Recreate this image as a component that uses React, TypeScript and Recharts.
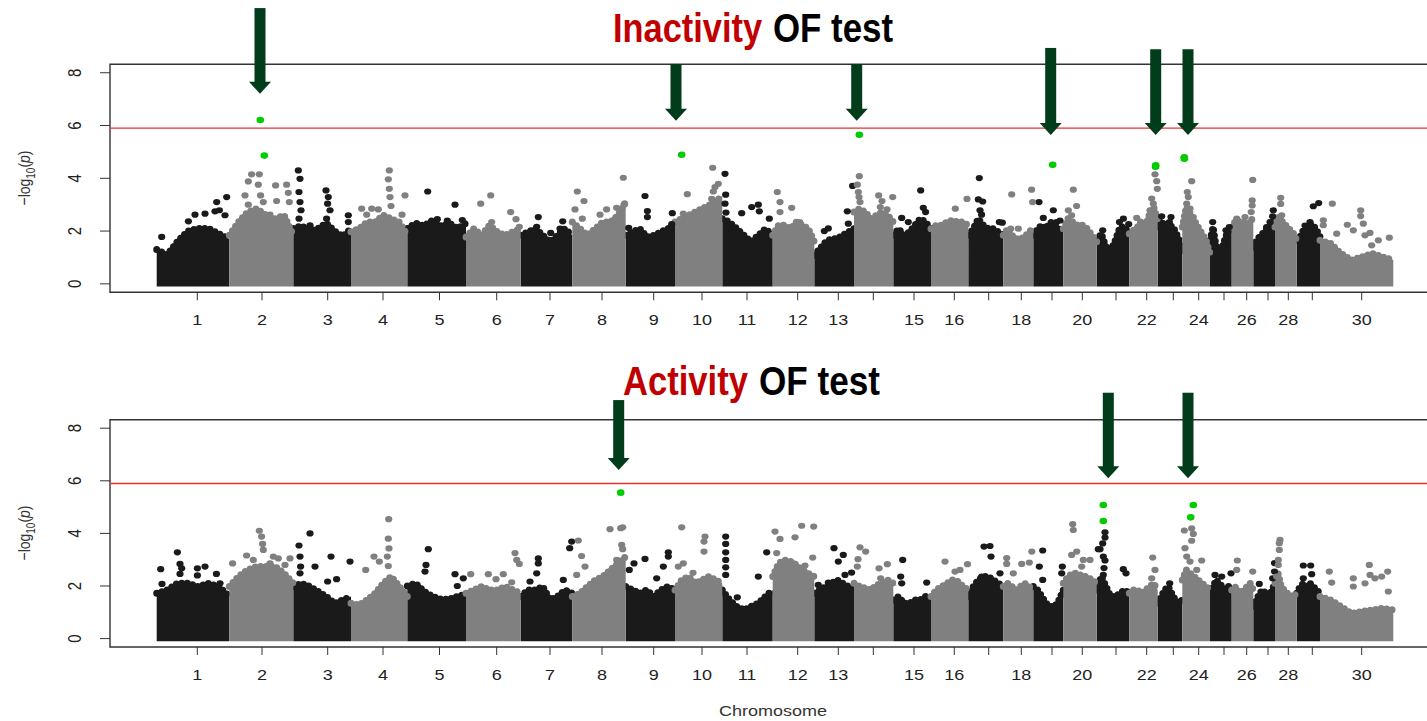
import React from 'react';
import {
  ComposedChart,
  Area,
  Scatter,
  XAxis,
  YAxis,
  ReferenceLine,
  ReferenceArea,
} from 'recharts';

// colours
const DARK = '#1a1a1a';
const LIGHT = '#808080';
const HIT = '#00cc00';
const THRESH = '#e8312d';
const ARROW = '#023d1b';
const TITLE_RED = '#c00000';
const FONT = '"Liberation Sans", Arial, sans-serif';

// chromosome lengths (position units) and label positions
const CHR_LEN = [72.6, 64, 57.7, 56.3, 58.7, 54.7, 51.6, 53.4, 49.3, 47.3, 50.4, 41.6, 39.7, 39.3, 37.7, 37.3, 35, 30, 30, 33.4, 32.6, 28.4, 24.6, 27.7, 21.7, 21.6, 21.7, 21.7, 23.3, 73.3];
const CHR_TICK = [40.6, 105.3, 171, 226.3, 282.8, 340, 393.3, 445.3, 497, 545.3, 590.3, 641, 681.6, 716.6, 757.3, 797.6, 832, 864.6, 895.3, 925.6, 959.3, 990, 1016.6, 1042, 1067.3, 1090, 1111.3, 1131.6, 1155.6, 1205];
const CHR_LABEL = ['1', '2', '3', '4', '5', '6', '7', '8', '9', '10', '11', '12', '13', '', '15', '16', '', '18', '', '20', '', '22', '', '24', '', '26', '', '28', '', '30'];
const Y_TICKS = [0, 2, 4, 6, 8];
const THRESHOLD = 5.9;

const X_MIN = -46.7;
const X_MAX = 1286.3;
const Y_MIN = -0.32;
const Y_MAX = 8.32;

// ---- Inactivity: top of the dense SNP band per chromosome (-log10 p)
const INACT_BODY = [
  [1.3, 1.1, 1.6, 2.0, 2.1, 2.1, 1.9, 1.7],
  [1.84, 2.34, 2.72, 2.85, 2.6, 2.47, 2.6, 1.84],
  [2.1, 2.2, 2.0, 2.1, 2.3, 2.0, 1.8, 2.1],
  [1.97, 2.09, 2.34, 2.34, 2.6, 2.47, 2.34, 1.84],
  [2.1, 2.3, 2.2, 2.4, 2.2, 2.3, 2.1, 2.3],
  [1.78, 2.09, 1.84, 2.22, 1.97, 1.84, 1.97, 2.09],
  [1.84, 1.97, 2.09, 1.84, 1.59, 1.84, 2.09, 1.84],
  [2.34, 2.09, 1.84, 2.09, 2.34, 2.34, 2.6, 3.1],
  [1.84, 1.97, 2.09, 1.78, 1.84, 1.97, 2.09, 2.22],
  [2.34, 2.47, 2.6, 2.72, 2.85, 2.97, 3.1, 3.35],
  [2.47, 2.34, 2.09, 1.84, 1.59, 1.84, 2.09, 1.84],
  [1.84, 2.22, 2.22, 2.09, 2.34, 2.22, 2.09, 1.59],
  [1.08, 1.34, 1.59, 1.71, 1.71, 1.84, 1.97, 2.09],
  [2.72, 2.85, 2.72, 2.47, 2.6, 2.72, 2.6, 2.34],
  [1.84, 2.09, 1.84, 1.97, 2.22, 2.47, 2.34, 2.09],
  [2.09, 2.22, 2.22, 2.34, 2.41, 2.34, 2.34, 2.22],
  [1.84, 2.09, 2.47, 2.22, 2.09, 2.09, 1.97, 1.84],
  [1.84, 2.09, 1.84, 1.71, 1.71, 1.78, 1.97, 2.09],
  [1.84, 2.09, 2.22, 2.09, 2.34, 2.22, 2.09, 1.97],
  [2.09, 2.47, 2.34, 2.22, 2.22, 2.09, 1.84, 1.59],
  [1.65, 1.9, 1.4, 1.27, 1.65, 2.15, 2.15, 1.9],
  [1.9, 2.03, 2.15, 2.41, 2.15, 2.66, 2.91, 2.41],
  [2.15, 2.4, 2.2, 2.1, 2.2, 2.0, 1.7, 1.2],
  [2.15, 2.91, 2.66, 2.41, 2.15, 1.9, 1.65, 1.15],
  [1.65, 2.15, 1.4, 1.15, 1.4, 1.78, 2.03, 2.09],
  [2.15, 2.34, 2.41, 2.28, 2.34, 2.28, 2.34, 2.53],
  [1.4, 1.65, 1.78, 1.9, 2.03, 2.15, 2.28, 2.41],
  [2.15, 2.53, 2.41, 2.28, 2.15, 2.03, 1.9, 1.65],
  [1.65, 1.78, 2.03, 2.15, 2.28, 2.22, 2.03, 1.78],
  [1.65, 1.53, 1.15, 0.9, 1.02, 1.15, 1.02, 0.9],
];

// ---- Inactivity: single SNPs above the band, [position in chromosome, -log10 p]
const INACT_DOTS: [number, number][][] = [
  [[5, 1.78], [31.7, 2.37], [38.3, 2.62], [48.3, 2.66], [58.3, 2.75], [60, 3.1], [62.7, 2.79], [70, 3.29], [68.3, 2.6]],
  [[15.7, 3.35], [19, 3.0], [19, 3.88], [22.3, 4.15], [30, 4.15], [29, 3.76], [31.3, 3.35], [34, 3.1], [46.3, 3.73], [57.3, 3.76], [59, 3.45], [60, 3.1], [47.3, 3.14], [40.7, 2.62]],
  [[5, 4.3], [6.7, 3.98], [5.7, 3.48], [6.7, 3.1], [7.7, 2.79], [5.7, 2.47], [32.7, 3.54], [35, 3.29], [34.3, 3.04], [36.7, 2.79], [33.3, 2.47], [55, 2.6], [55, 2.34], [16.7, 2.22]],
  [[38.3, 4.3], [37.3, 3.96], [38.3, 3.6], [39, 3.29], [40, 2.95], [10.7, 2.85], [20.7, 2.85], [27.3, 2.82], [54, 3.35], [51, 2.62], [15.7, 2.62]],
  [[20.4, 3.5], [47.7, 3.0], [30, 2.45], [40, 2.4], [55, 2.42]],
  [[14.7, 3.04], [24.7, 3.35], [44.7, 2.72], [50, 2.45], [53.3, 2.16], [25.7, 2.34]],
  [[17.6, 2.53], [16, 2.16], [42, 2.37], [39.3, 2.09], [30, 1.93]],
  [[5, 3.5], [11.7, 3.14], [2.7, 2.82], [27.7, 2.62], [34.3, 2.82], [44.3, 2.88], [51, 4.02], [51.7, 3.0], [49, 2.72], [10, 2.47]],
  [[19.3, 3.33], [21.7, 2.76], [21.7, 2.53], [3, 2.12], [46.6, 2.68], [46, 2.26]],
  [[12.3, 3.4], [37.7, 4.4], [43.3, 3.79], [40, 3.67], [38.3, 3.5], [36.7, 3.22], [41.7, 3.04], [31.7, 2.79], [8.3, 2.66], [18.3, 2.47]],
  [[2.7, 4.17], [3.4, 3.38], [2.7, 3.04], [3.7, 2.7], [19.4, 2.68], [29.4, 2.91], [36, 3.0], [37, 2.75], [47, 2.47]],
  [[4.6, 3.48], [7.3, 3.1], [7.3, 2.72], [19, 2.88], [27, 2.34]],
  [[33, 2.75], [34, 2.28], [38.3, 3.71], [10, 2.0], [14, 2.1]],
  [[5.3, 4.08], [3.3, 3.76], [4.3, 3.48], [5, 3.29], [6, 3.1], [24.7, 3.35], [28, 3.14], [38.7, 3.29], [26.3, 2.91], [33, 2.82]],
  [[27.4, 3.54], [8.4, 2.5], [15, 2.34], [30, 2.88], [32.3, 2.72], [30, 2.16]],
  [[24.3, 2.85], [36, 3.22], [13, 2.16]],
  [[11, 4.01], [10, 3.2], [14.4, 3.12], [11.7, 2.79], [13.3, 2.62], [31, 2.34], [34, 2.32]],
  [[8.4, 3.39], [28.3, 3.57], [29.3, 3.1], [7.4, 2.09], [15, 2.09]],
  [[5.7, 3.1], [20, 2.79], [10, 2.5], [23.3, 2.34], [26.7, 2.4]],
  [[10, 3.57], [13.3, 2.95], [5, 2.79], [8.3, 2.6]],
  [[6, 2.03], [26.7, 2.47], [22.7, 2.34], [32, 2.26]],
  [[25.7, 4.15], [27.4, 3.89], [28, 3.6], [22.4, 3.23], [24, 3.04], [20.7, 2.79], [7.4, 2.5]],
  [[4, 2.56], [13.3, 2.53], [11.7, 2.34]],
  [[9.4, 3.89], [5, 3.48], [6, 3.29], [4.4, 3.04], [7.7, 2.85], [11, 2.53]],
  [[2.7, 2.34], [16, 2.03], [19.3, 2.15]],
  [[5, 2.47], [13.3, 2.53], [21, 3.94], [20.5, 3.16], [20.5, 2.97], [19.5, 2.72]],
  [[20, 2.79], [19.3, 2.56], [16.7, 2.34], [13.3, 2.15]],
  [[5.7, 3.26], [5.7, 3.03], [6.7, 2.6]],
  [[16.6, 2.94], [22, 3.06], [13.3, 2.34], [8.3, 2.21]],
  [[12.3, 3.04], [3.3, 2.41], [3.3, 2.22], [16.7, 1.9], [27.3, 2.24], [33.3, 2.03], [40.7, 2.79], [40.7, 2.57], [43.3, 2.28], [50, 1.93], [58.3, 1.65], [69.3, 1.75], [51.7, 1.46], [45, 1.84]],
];

// highlighted SNPs: [chromosome, position, -log10 p]
const INACT_HITS: [number, number, number][] = [
  [2, 31, 6.21], [2, 35, 4.86], [10, 6.7, 4.89], [14, 5.3, 5.65], [19, 19.4, 4.51],
  [22, 26.4, 4.49], [22, 26.2, 4.44], [24, 2, 4.74], [24, 2, 4.8],
];
// arrows: [chromosome, position, tip, top]
const INACT_ARROWS: [number, number, number, number][] = [
  [2, 30.7, 7.2, 10.45], [10, 1, 6.18, 8.33], [14, 2.7, 6.18, 8.33],
  [19, 17.4, 5.64, 8.94], [22, 26.4, 5.64, 8.89], [24, 5.7, 5.64, 8.89],
];

// ---- Activity
const ACT_BODY = [
  [1.72, 1.85, 2.1, 2.1, 1.98, 2.1, 1.98, 1.6],
  [1.98, 2.36, 2.61, 2.74, 2.74, 2.74, 2.48, 2.1],
  [1.98, 2.1, 1.98, 1.79, 1.6, 1.34, 1.47, 1.6],
  [1.34, 1.28, 1.47, 1.72, 2.1, 2.36, 1.98, 1.6],
  [2.0, 2.1, 1.8, 1.6, 1.5, 1.5, 1.6, 1.7],
  [1.72, 1.85, 1.98, 1.85, 1.85, 1.98, 1.85, 1.72],
  [1.6, 1.85, 1.85, 1.98, 1.47, 1.6, 1.85, 1.72],
  [1.6, 1.72, 1.98, 2.23, 2.36, 2.61, 2.86, 3.12],
  [1.98, 1.85, 1.72, 1.85, 1.6, 1.85, 1.98, 1.85],
  [1.85, 2.23, 2.36, 2.1, 2.23, 2.36, 2.23, 2.1],
  [1.85, 1.47, 1.22, 1.09, 1.22, 1.34, 1.6, 1.85],
  [2.36, 2.86, 2.99, 2.93, 2.8, 2.61, 2.48, 2.36],
  [1.72, 1.85, 1.98, 2.1, 2.23, 2.1, 1.98, 1.85],
  [2.1, 1.98, 1.92, 1.85, 2.04, 2.1, 2.23, 2.1],
  [1.47, 1.6, 1.34, 1.34, 1.47, 1.47, 1.6, 1.34],
  [1.6, 1.85, 1.98, 2.1, 2.23, 2.17, 1.98, 1.85],
  [1.6, 1.98, 2.23, 2.36, 2.36, 2.23, 2.1, 1.98],
  [1.98, 2.1, 1.98, 1.85, 1.98, 2.1, 1.98, 1.85],
  [1.98, 1.85, 1.6, 1.34, 1.22, 1.22, 1.47, 1.85],
  [2.1, 2.36, 2.48, 2.48, 2.36, 2.36, 2.23, 2.1],
  [1.85, 2.36, 1.98, 1.6, 1.6, 1.72, 1.85, 1.72],
  [1.72, 1.85, 1.85, 1.72, 1.85, 1.98, 2.1, 1.85],
  [1.34, 1.6, 1.85, 1.98, 1.72, 1.47, 1.34, 1.47],
  [2.23, 2.61, 2.48, 2.36, 2.23, 2.1, 1.98, 1.85],
  [1.72, 1.98, 2.23, 2.1, 1.98, 1.85, 1.98, 1.85],
  [1.85, 1.98, 1.85, 1.72, 1.85, 1.98, 2.1, 1.85],
  [1.22, 1.47, 1.72, 1.85, 1.72, 1.6, 1.85, 2.1],
  [2.1, 2.48, 1.98, 1.85, 1.72, 1.6, 1.72, 1.6],
  [1.72, 1.98, 2.1, 1.98, 2.1, 1.98, 1.85, 1.72],
  [1.6, 1.47, 1.22, 0.96, 1.03, 1.09, 1.15, 1.09],
];

const ACT_DOTS: [number, number][][] = [
  [[4, 2.64], [5.3, 2.08], [20.7, 3.28], [23.3, 2.84], [25, 2.67], [23.3, 2.46], [40.7, 2.67], [48.3, 2.74], [40.7, 2.4], [59.7, 2.46], [63.3, 2.1]],
  [[30, 4.1], [32.3, 3.88], [33.3, 3.6], [34, 3.37], [17.3, 3.16], [3.3, 2.86], [24, 2.99], [44, 3.12], [49, 3.05], [60.7, 3.05], [55.7, 2.8], [40.7, 2.86]],
  [[5.7, 3.54], [6.7, 3.12], [7.3, 2.74], [6.7, 2.48], [16.7, 4.0], [21.7, 2.74], [37.7, 3.12], [43.3, 2.26], [56.7, 2.93], [34.3, 2.17]],
  [[37.7, 4.54], [37.3, 3.8], [38, 3.43], [36.3, 3.12], [37.3, 2.76], [23, 3.12], [28.3, 2.93], [14.7, 2.61]],
  [[21, 3.4], [18.7, 2.8], [17.7, 2.55], [47.7, 2.45], [56, 2.29], [50, 2.0]],
  [[4.7, 2.45], [22.3, 2.45], [37.3, 2.45], [30, 2.26], [45.7, 2.14], [49, 3.25], [50.7, 2.99], [53.3, 2.84]],
  [[17.6, 3.05], [17.6, 2.86], [16, 2.48], [9.3, 2.17], [42.6, 2.23], [49, 3.44], [51, 3.69]],
  [[6, 3.73], [9.3, 3.14], [12.7, 2.74], [4.4, 2.42], [37.7, 4.16], [50.4, 4.23], [48.4, 4.2], [49.4, 3.56], [50.4, 3.4], [44.4, 2.99], [39.4, 2.61]],
  [[19.3, 3.03], [8.3, 2.86], [3.6, 2.61], [37.6, 2.74], [42.6, 3.28], [42.6, 3.12], [31, 2.29]],
  [[6.7, 4.23], [30, 3.88], [29, 3.69], [29, 3.31], [8.3, 2.86], [3.3, 2.74], [18, 2.5]],
  [[3.4, 3.88], [3.4, 3.6], [3.4, 3.28], [3.4, 2.99], [3.4, 2.71], [3.4, 2.42], [44.4, 3.28], [36, 2.36], [15, 1.57]],
  [[2.3, 4.07], [7.3, 3.79], [29, 4.29], [41, 4.26], [22.3, 3.85], [4, 3.25], [20.6, 2.86], [32.3, 2.78], [40, 3.08]],
  [[19.7, 3.44], [29, 3.18], [24, 2.93], [30.7, 2.42], [14, 2.13], [4, 2.04], [37.3, 2.51]],
  [[6, 3.47], [11.7, 3.31], [4, 3.02], [3.3, 2.74], [33.3, 2.83], [25, 2.67], [26.7, 2.29]],
  [[9.4, 2.99], [7.4, 2.36], [8.4, 2.1], [33.4, 2.13]],
  [[14, 2.93], [36.5, 2.83], [24, 2.55], [29, 2.61]],
  [[15.7, 3.5], [21.7, 3.52], [22.7, 3.12], [31.7, 2.48], [13.4, 2.36]],
  [[3.4, 3.06], [3.4, 2.84], [18.4, 2.84], [26, 2.89], [10, 2.48], [28.5, 3.31]],
  [[9.4, 3.35], [6, 2.74], [9.4, 2.23], [29, 2.74], [28.4, 2.48]],
  [[9.4, 4.35], [10, 4.13], [8.4, 3.18], [13.4, 3.31], [20, 2.99], [26.7, 2.99], [18.4, 2.74]],
  [[8.3, 4.04], [8.3, 3.84], [6, 3.62], [3.3, 3.4], [6.6, 3.12], [8.3, 2.97], [7.3, 2.68], [6.6, 2.42], [26.6, 2.64], [29.3, 2.48], [1.6, 3.4]],
  [[23.4, 3.08], [25.7, 2.61], [22.4, 2.29]],
  [[12, 2.1]],
  [[9.4, 4.19], [2, 4.11], [11, 3.98], [9.4, 3.72], [2.7, 3.44], [4.4, 3.12], [7.7, 2.93], [19.4, 2.97], [14.4, 2.61]],
  [[5, 2.42], [11.7, 2.36], [21, 2.48]],
  [[5.6, 2.97], [5, 2.61], [21, 2.55]],
  [[6, 2.08], [19.4, 2.29], [21.2, 2.87], [21.2, 2.55]],
  [[5, 3.75], [4.3, 3.63], [4.3, 3.37], [3.3, 2.99], [3.3, 2.8], [1.7, 2.36]],
  [[6.6, 2.78], [14, 2.78], [15, 2.45], [6.6, 2.29]],
  [[9.3, 2.55], [11.7, 2.13], [33.3, 2.29], [45, 2.1], [49.3, 2.8], [50, 2.42], [55, 2.29], [61.7, 2.36], [67.7, 2.55], [68.3, 1.79], [33.3, 1.98]],
];

const ACT_HITS: [number, number, number][] = [
  [8, 48.4, 5.55], [21, 6.6, 5.08], [21, 6.6, 4.47], [24, 11, 5.08], [24, 8.4, 4.61],
];
const ACT_ARROWS: [number, number, number, number][] = [
  [8, 46.4, 6.41, 9.07], [21, 11.6, 6.1, 9.35], [24, 5.7, 6.1, 9.35],
];

// cumulative chromosome starts
const CHR_START: number[] = [];
CHR_LEN.reduce((acc, len) => {
  CHR_START.push(acc);
  return acc + len;
}, 0);

const pos = (chr: number, off: number) => CHR_START[chr - 1] + off;

function bodyRows(body: number[][]) {
  const rows: any[] = [];
  body.forEach((vals, c) => {
    const key = c % 2 === 0 ? 'dark' : 'light';
    vals.forEach((v, i) => {
      rows.push({ x: CHR_START[c] + (CHR_LEN[c] * i) / (vals.length - 1), [key]: v });
    });
  });
  return rows;
}

function dotRows(dots: [number, number][][], parity: number) {
  const rows: { x: number; y: number }[] = [];
  dots.forEach((list, c) => {
    if (c % 2 !== parity) return;
    list.forEach(([off, v]) => rows.push({ x: pos(c + 1, off), y: v }));
  });
  return rows;
}

const XTick = (p: any) => (
  <g transform={`translate(${p.x},${p.y}) scale(1.2,1)`}>
    <text x={0} y={0} dy={23} textAnchor="middle" fontSize={15} fill="#222" fontFamily={FONT}>
      {CHR_LABEL[p.index]}
    </text>
  </g>
);

const YTick = (p: any) => (
  <g transform={`translate(${p.x - 23},${p.y}) scale(1.2,1) rotate(-90)`}>
    <text x={0} y={0} dy="0.36em" textAnchor="middle" fontSize={15} fill="#222" fontFamily={FONT}>
      {p.payload.value}
    </text>
  </g>
);

const ArrowShape = (p: any) => {
  const x = p.x1;
  const tip = Math.max(p.y1, p.y2);
  const top = Math.min(p.y1, p.y2);
  const head = 12;
  return (
    <g>
      <rect x={x - 5.5} y={top} width={11} height={tip - top - head + 1} fill={ARROW} />
      <polygon points={`${x - 11},${tip - head} ${x + 11},${tip - head} ${x},${tip}`} fill={ARROW} />
    </g>
  );
};

const dotShape = (fill: string, rx: number, ry: number) => (p: any) =>
  <ellipse cx={p.cx} cy={p.cy} rx={rx} ry={ry} fill={fill} />;

interface PanelProps {
  top: number;
  height: number;
  marginTop: number;
  marginBottom: number;
  body: number[][];
  dots: [number, number][][];
  hits: [number, number, number][];
  arrows: [number, number, number, number][];
}

function ManhattanPanel({ top, height, marginTop, marginBottom, body, dots, hits, arrows }: PanelProps) {
  const rows = bodyRows(body);
  const darkDots = dotRows(dots, 0);
  const lightDots = dotRows(dots, 1);
  const hitDots = hits.map(([c, off, v]) => ({ x: pos(c, off), y: v }));

  // the dense band: filled area whose upper edge is a row of round dots
  const band = (key: string, color: string) => (
    <Area
      type="linear"
      dataKey={key}
      baseValue={-0.1}
      fill={color}
      fillOpacity={1}
      stroke={color}
      strokeWidth={7}
      strokeDasharray="0 5.5"
      strokeLinecap="round"
      isAnimationActive={false}
    />
  );

  return (
    <div style={{ position: 'absolute', left: 0, top }}>
      <ComposedChart
        width={1460}
        height={height}
        data={rows}
        margin={{ top: marginTop, right: 17, bottom: marginBottom, left: 0 }}
      >
        <XAxis
          type="number"
          dataKey="x"
          domain={[X_MIN, X_MAX]}
          allowDataOverflow
          ticks={CHR_TICK}
          interval={0}
          tick={<XTick />}
          tickSize={8}
          tickLine={{ stroke: '#333' }}
          axisLine={false}
          height={40}
        />
        <YAxis
          type="number"
          domain={[Y_MIN, Y_MAX]}
          allowDataOverflow
          ticks={Y_TICKS}
          interval={0}
          tick={<YTick />}
          tickSize={10}
          tickLine={{ stroke: '#333' }}
          axisLine={false}
          width={110}
        />
        {band('dark', DARK)}
        {band('light', LIGHT)}
        <Scatter data={darkDots} dataKey="y" shape={dotShape(DARK, 3.6, 3.1)} isAnimationActive={false} />
        <Scatter data={lightDots} dataKey="y" shape={dotShape(LIGHT, 3.6, 3.1)} isAnimationActive={false} />
        <ReferenceLine y={THRESHOLD} stroke={THRESH} strokeWidth={1.4} />
        <Scatter data={hitDots} dataKey="y" shape={dotShape(HIT, 3.8, 3.3)} isAnimationActive={false} />
        <ReferenceArea
          x1={X_MIN}
          x2={X_MAX}
          y1={Y_MIN}
          y2={Y_MAX}
          fill="none"
          stroke="#333"
          strokeWidth={1.4}
          ifOverflow="visible"
        />
        {arrows.map(([c, off, tip, topV], i) => (
          <ReferenceLine
            key={i}
            segment={[
              { x: pos(c, off), y: topV },
              { x: pos(c, off), y: tip },
            ]}
            ifOverflow="visible"
            shape={ArrowShape}
          />
        ))}
      </ComposedChart>
    </div>
  );
}

function YLabel({ x, y }: { x: number; y: number }) {
  return (
    <g transform={`translate(${x},${y}) scale(1.2,1) rotate(-90)`}>
      <text x={0} y={0} textAnchor="middle" fontSize={14} fill="#333" fontFamily={FONT}>
        −log
        <tspan fontSize={10} dy={4}>10</tspan>
        <tspan dy={-4}>(</tspan>
        <tspan fontStyle="italic">p</tspan>)
      </text>
    </g>
  );
}

export default function App() {
  return (
    <div
      style={{
        position: 'fixed',
        left: 0,
        top: 0,
        width: 1427,
        height: 721,
        overflow: 'hidden',
        background: '#fff',
      }}
    >
      <ManhattanPanel
        top={0}
        height={340}
        marginTop={64.3}
        marginBottom={7.7}
        body={INACT_BODY}
        dots={INACT_DOTS}
        hits={INACT_HITS}
        arrows={INACT_ARROWS}
      />
      <ManhattanPanel
        top={360}
        height={361}
        marginTop={59.8}
        marginBottom={34}
        body={ACT_BODY}
        dots={ACT_DOTS}
        hits={ACT_HITS}
        arrows={ACT_ARROWS}
      />
      <svg
        width={1427}
        height={721}
        style={{ position: 'absolute', left: 0, top: 0, pointerEvents: 'none' }}
      >
        <text x={613} y={41.7} fontSize={40} fontWeight="bold" fill={TITLE_RED} fontFamily={FONT} textLength={149} lengthAdjust="spacingAndGlyphs">
          Inactivity
        </text>
        <text x={773} y={41.7} fontSize={40} fontWeight="bold" fill="#000" fontFamily={FONT} textLength={120} lengthAdjust="spacingAndGlyphs">
          OF test
        </text>
        <text x={623} y={395} fontSize={40} fontWeight="bold" fill={TITLE_RED} fontFamily={FONT} textLength={125} lengthAdjust="spacingAndGlyphs">
          Activity
        </text>
        <text x={759} y={395} fontSize={40} fontWeight="bold" fill="#000" fontFamily={FONT} textLength={121} lengthAdjust="spacingAndGlyphs">
          OF test
        </text>
        <YLabel x={30} y={178} />
        <YLabel x={30} y={533} />
        <g transform="translate(773,716) scale(1.2,1)">
          <text x={0} y={0} textAnchor="middle" fontSize={15} fill="#333" fontFamily={FONT}>
            Chromosome
          </text>
        </g>
      </svg>
    </div>
  );
}
